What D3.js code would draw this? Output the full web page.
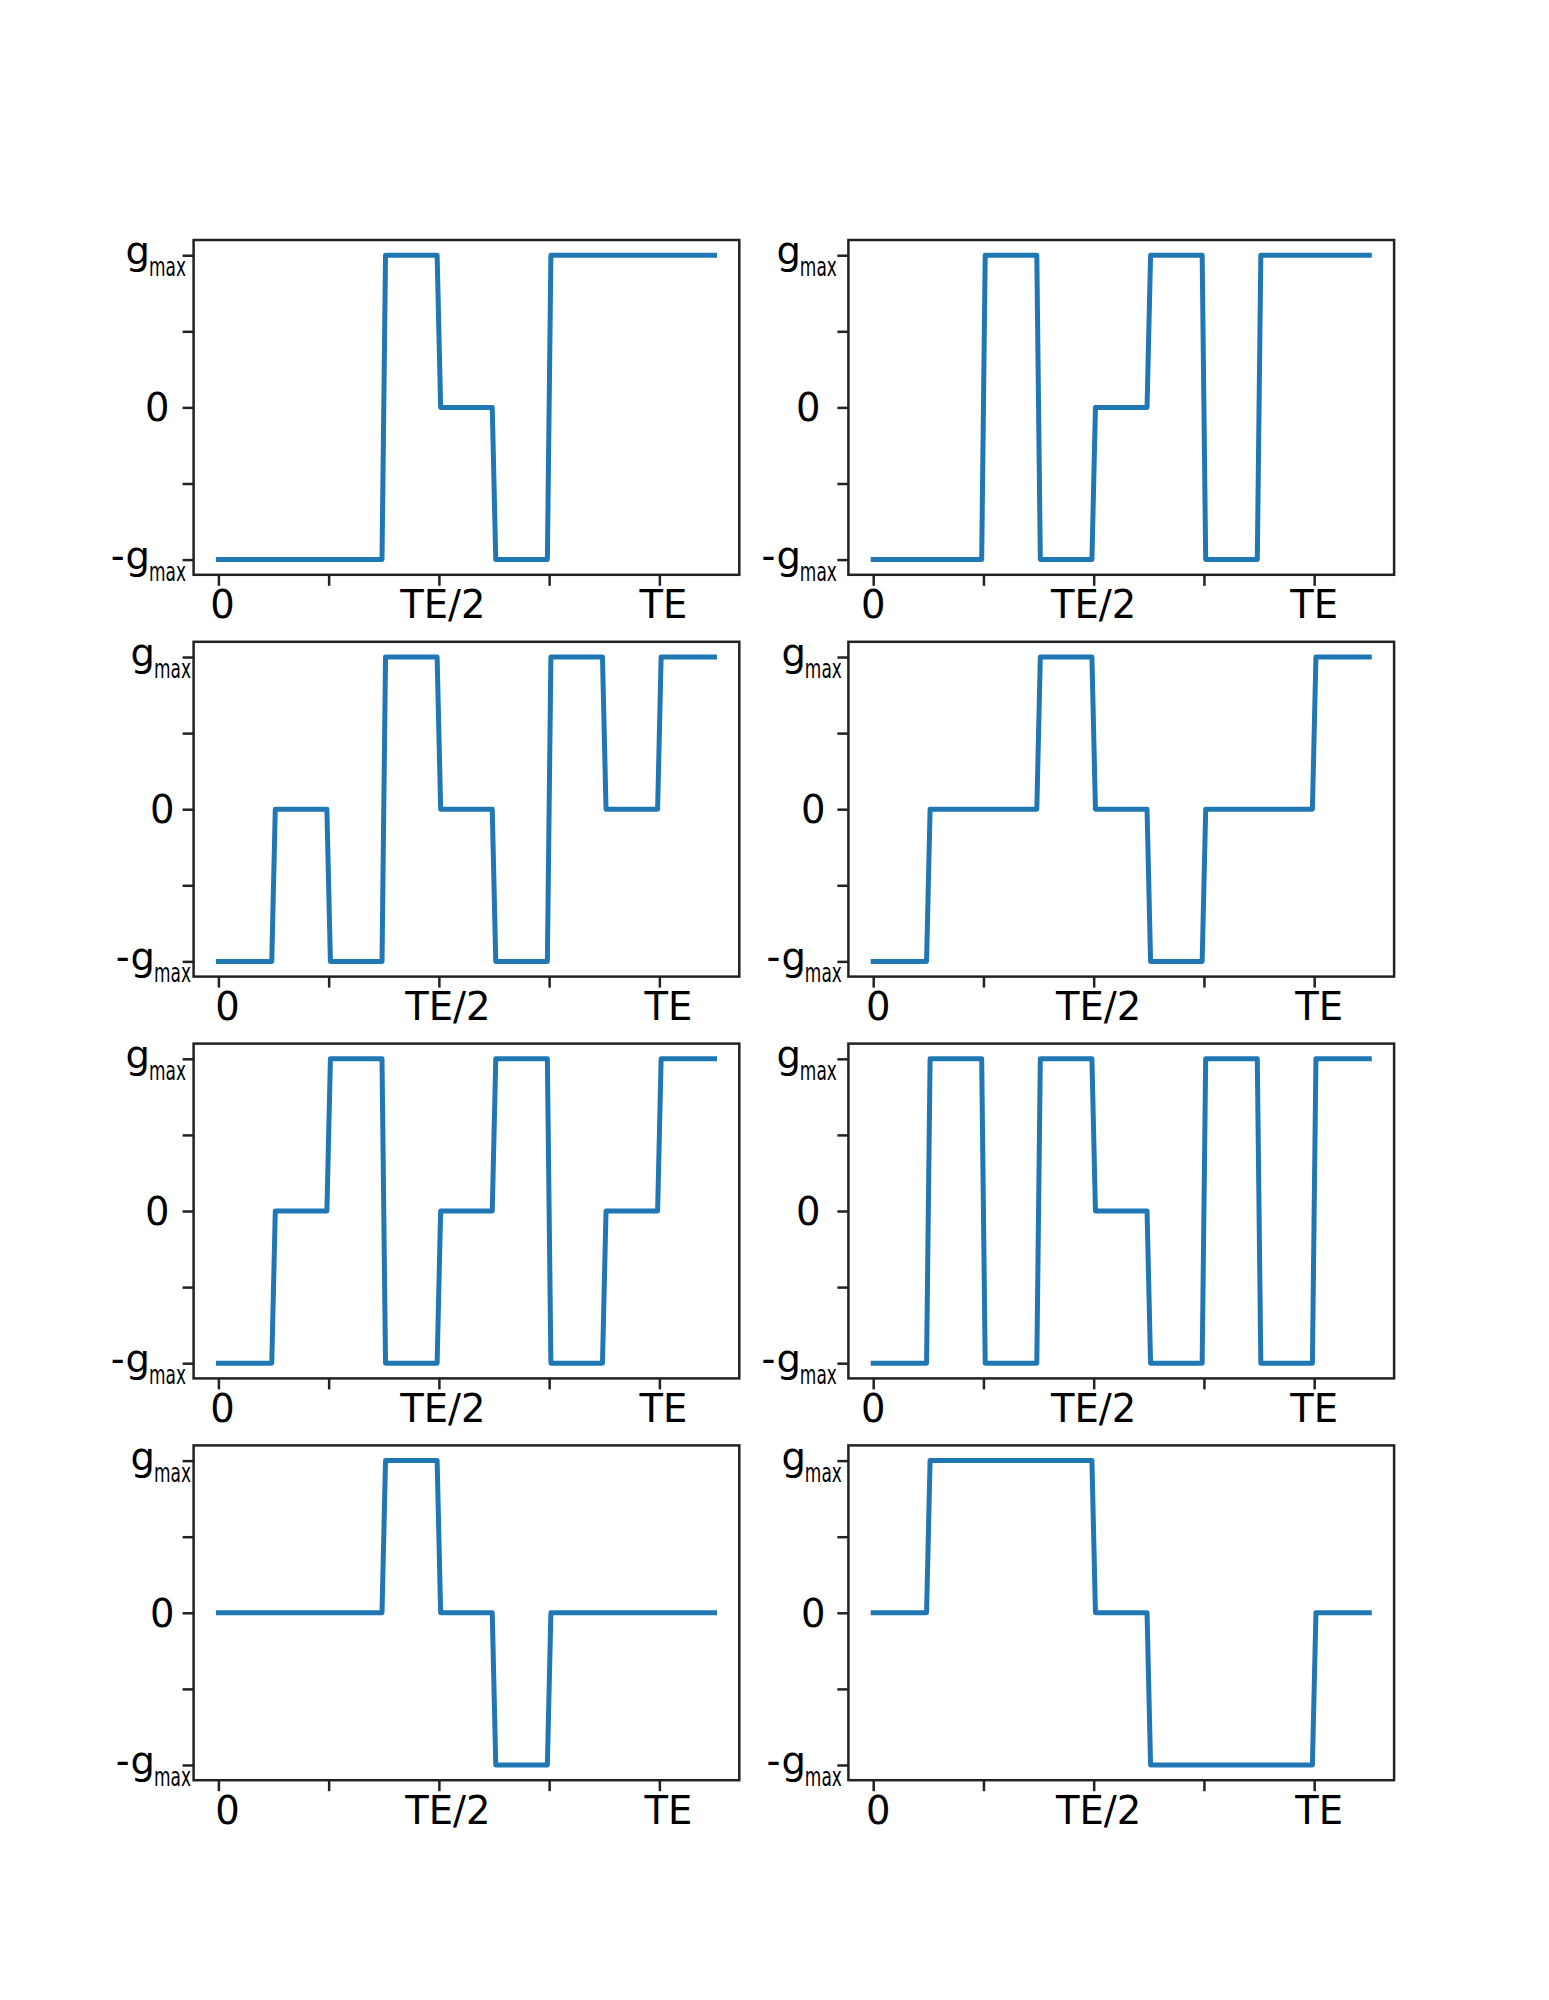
<!DOCTYPE html>
<html>
<head>
<meta charset="utf-8">
<script src="https://cdn.jsdelivr.net/npm/d3@7"></script>
<style>
  body { margin: 0; background: #fff; }
  text { font-family: "DejaVu Sans", sans-serif; fill: #000; }
</style>
</head>
<body>
<svg></svg>
<script>
// segment boundaries, in units of TE (each segment TE/8 long)
const SEGMENT_EDGES = [0, 0.125, 0.25, 0.375, 0.5, 0.625, 0.75, 0.875, 1, 1.125];

// gradient level of each segment, per panel (row by row, left to right)
const LEVELS_A = [-1, -1, -1, 1, 0, -1, 1, 1, 1];
const LEVELS_B = [-1, -1, 1, -1, 0, 1, -1, 1, 1];
const LEVELS_C = [-1, 0, -1, 1, 0, -1, 1, 0, 1];
const LEVELS_D = [-1, 0, 0, 1, 0, -1, 0, 0, 1];
const LEVELS_E = [-1, 0, 1, -1, 0, 1, -1, 0, 1];
const LEVELS_F = [-1, 1, -1, 1, 0, -1, 1, -1, 1];
const LEVELS_G = [0, 0, 0, 1, 0, -1, 0, 0, 0];
const LEVELS_H = [0, 1, 1, 1, 0, -1, -1, -1, 0];
const PANELS = [LEVELS_A, LEVELS_B, LEVELS_C, LEVELS_D, LEVELS_E, LEVELS_F, LEVELS_G, LEVELS_H];

const X_TICKS = [0, 0.25, 0.5, 0.75, 1];
const X_TICK_LABELS = ["0", "", "TE/2", "", "TE"];
const Y_TICKS = [-1, -0.5, 0, 0.5, 1];

const RAMP = 0.004; // half of the ramp time of each switch

const WIDTH = 1549;
const HEIGHT = 2000;
const LEFT = 193.6;
const TOP = 240;
const PANEL_W = 545.7;
const PANEL_H = 334.8;
const GAP_W = 109.1;
const GAP_H = 67;
const TICK_LEN = 11;
const FONT = 38.5;
const LABEL_SHIFT = [0, -4, 5, 1, 0, -4, 5, 1];

const svg = d3.select("svg").attr("width", WIDTH).attr("height", HEIGHT);

const xScale = d3.scaleLinear().domain([-0.05625, 1.18125]).range([0, PANEL_W]);
const yScale = d3.scaleLinear().domain([-1.1, 1.1]).range([PANEL_H, 0]);

const toPoints = (levels) => {
  const pts = [[SEGMENT_EDGES[0], levels[0]]];
  for (let k = 1; k < levels.length; k++) {
    if (levels[k] !== levels[k - 1]) {
      pts.push([SEGMENT_EDGES[k] - RAMP, levels[k - 1]]);
      pts.push([SEGMENT_EDGES[k] + RAMP, levels[k]]);
    }
  }
  pts.push([SEGMENT_EDGES[SEGMENT_EDGES.length - 1], levels[levels.length - 1]]);
  return pts;
};

const line = d3.line().x((d) => xScale(d[0])).y((d) => yScale(d[1]));

PANELS.forEach((levels, i) => {
  const row = Math.floor(i / 2);
  const col = i % 2;
  const shift = LABEL_SHIFT[i];
  const g = svg
    .append("g")
    .attr("transform", `translate(${LEFT + col * (PANEL_W + GAP_W)}, ${TOP + row * (PANEL_H + GAP_H)})`);

  //waveform
  g.append("path")
    .datum(toPoints(levels))
    .attr("d", line)
    .attr("fill", "none")
    .attr("stroke", "#1f77b4")
    .attr("stroke-width", 5)
    .attr("stroke-linejoin", "round")
    .attr("stroke-linecap", "square");

  //x axis ticks
  g.append("g")
    .attr("transform", `translate(0, ${PANEL_H})`)
    .call(d3.axisBottom(xScale).tickValues(X_TICKS).tickSize(TICK_LEN).tickFormat(""))
    .call((a) => a.select(".domain").remove())
    .call((a) => a.selectAll("line").attr("stroke", "#222").attr("stroke-width", 2.5));

  //y axis ticks
  g.append("g")
    .call(d3.axisLeft(yScale).tickValues(Y_TICKS).tickSize(TICK_LEN).tickFormat(""))
    .call((a) => a.select(".domain").remove())
    .call((a) => a.selectAll("line").attr("stroke", "#222").attr("stroke-width", 2.5));

  //x tick labels
  g.selectAll(".xlabel")
    .data(X_TICKS.filter((t, j) => X_TICK_LABELS[j] !== ""))
    .enter()
    .append("text")
    .classed("xlabel", true)
    .attr("x", (t) => xScale(t) + 4 + shift)
    .attr("y", PANEL_H + 43.5)
    .attr("text-anchor", "middle")
    .attr("font-size", FONT)
    .text((t) => X_TICK_LABELS[X_TICKS.indexOf(t)]);

  //y tick labels
  g.append("text")
    .attr("x", -24 + shift)
    .attr("y", yScale(0) + 14)
    .attr("text-anchor", "end")
    .attr("font-size", FONT)
    .text("0");

  [1, -1].forEach((v) => {
    const gx = -68 + shift;
    const gy = yScale(v) + 9;
    const t = g.append("text").attr("x", gx).attr("y", gy).attr("font-size", FONT);
    t.append("tspan").text("g");
    t.append("tspan")
      .attr("dy", 12)
      .attr("dx", -1)
      .attr("font-size", FONT * 0.7)
      .attr("textLength", 37)
      .attr("lengthAdjust", "spacingAndGlyphs")
      .text("max");
    if (v < 0) {
      g.append("text")
        .attr("x", gx - 1)
        .attr("y", gy)
        .attr("text-anchor", "end")
        .attr("font-size", FONT)
        .text("-");
    }
  });

  //frame
  g.append("rect")
    .attr("width", PANEL_W)
    .attr("height", PANEL_H)
    .attr("fill", "none")
    .attr("stroke", "#222")
    .attr("stroke-width", 2.5);
});
</script>
</body>
</html>
